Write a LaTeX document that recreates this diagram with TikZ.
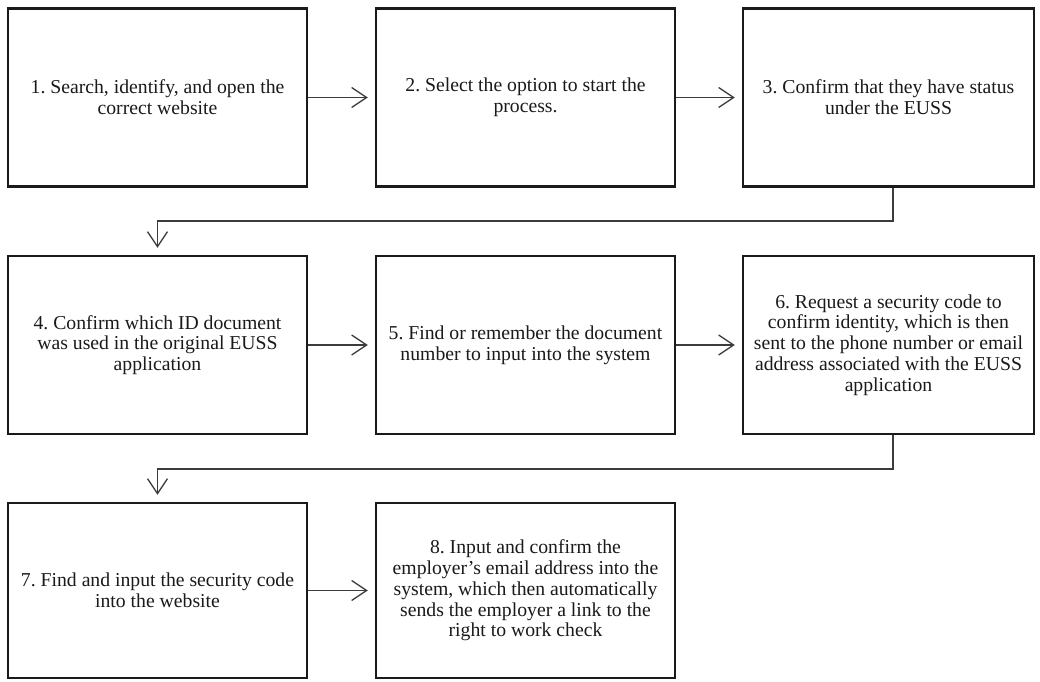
\documentclass[tikz,border=0pt]{standalone}
\usepackage{fontspec}
\setmainfont{Liberation Serif}
\usetikzlibrary{arrows.meta}
\definecolor{ink}{HTML}{1A1A1A}
\begin{document}
\begin{tikzpicture}[x=1pt,y=-1pt,
  stepbox/.style={draw=ink,line width=2.4pt,minimum width=299pt,minimum height=178pt,
    align=center,inner sep=0pt,font=\frenchspacing\fontsize{19.7}{20.8}\selectfont,text=ink},
  flow/.style={draw=ink!85,line width=1.3pt,-{Straight Barb[length=15pt,width=20pt,line width=1.3pt]},
    shorten >=7pt}]
\useasboundingbox[fill=white] (0,0) rectangle (1040,681);
\node[stepbox] (b1) at (157.5,97.5) {1. Search, identify, and open the\\correct website};
\node[stepbox] (b2) at (525.5,97.5) {2. Select the option to start the\\process.};
\node[stepbox,minimum width=291pt] (b3) at (888.5,97.5) {3. Confirm that they have status\\under the EUSS};
\node[stepbox] (b4) at (157.5,345) {4. Confirm which ID document\\was used in the original EUSS\\application};
\node[stepbox] (b5) at (525.5,345) {5. Find or remember the document\\number to input into the system};
\node[stepbox,minimum width=291pt] (b6) at (888.5,345) {6. Request a security code to\\confirm identity, which is then\\sent to the phone number or email\\address associated with the EUSS\\application};
\node[stepbox,minimum height=175pt] (b7) at (157.5,590.5) {7. Find and input the security code\\into the website};
\node[stepbox,minimum height=175pt] (b8) at (525.5,590.5) {8. Input and confirm the\\employer’s email address into the\\system, which then automatically\\sends the employer a link to the\\right to work check};
\draw[flow] (b1.east) -- (b2.west);
\draw[flow] (b2.east) -- (b3.west);
\draw[flow] (b4.east) -- (b5.west);
\draw[flow] (b5.east) -- (b6.west);
\draw[flow] (b7.east) -- (b8.west);
\draw[flow] ([xshift=4.5pt]b3.south) |- (157.5,221) -- (b4.north);
\draw[flow] ([xshift=4.5pt]b6.south) |- (157.5,469) -- (b7.north);
\end{tikzpicture}
\end{document}
